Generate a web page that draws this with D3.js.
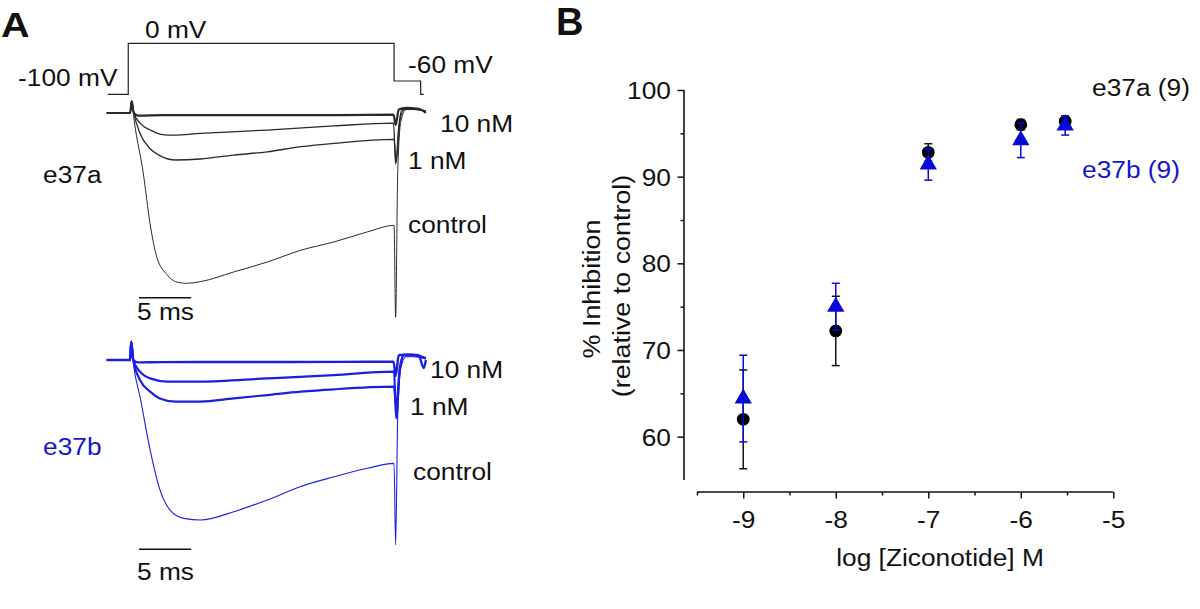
<!DOCTYPE html>
<html>
<head>
<meta charset="utf-8">
<script src="https://cdn.jsdelivr.net/npm/d3@7"></script>
<style>
  html, body { margin: 0; padding: 0; background: #fff; }
  svg { display: block; font-family: "Liberation Sans", Arial, Helvetica, sans-serif; }
</style>
</head>
<body>
<svg id="chart" width="1200" height="609"></svg>
<script>
// ---------------- DATA ----------------
// Panel A: voltage protocol (time in ms relative to step onset, mV)
const protocolTimes  = [-2.3, -0.33, 25.15, 27.7, 28.0];
const protocolLevels = [-100, 0, -60, -100, -100];
const protocolLabels = ["-100 mV", "0 mV", "-60 mV"];

// Panel A: current traces, [time ms, current normalised to control peak]
const e37aTraceFlat = [[-2.4,0],[-0.15,0],[0,0.07],[0.2,0],[0.6,-0.015],[3,-0.013],[10,-0.012],[20,-0.012],[25.1,-0.01],[25.3,-0.07],[25.6,0.02],[26.3,0.03],[27.5,0.025],[28.2,0.0]];
const e37aTrace10nM = [[-2.4,0],[-0.15,0],[0,0.07],[0.2,0],[0.8,-0.06],[1.8,-0.1],[2.8,-0.125],[4,-0.13],[6.6,-0.12],[13,-0.1],[19.4,-0.076],[25.1,-0.06],[25.3,-0.3],[25.6,-0.08],[25.9,0.02],[27,0.025],[28.2,0.01]];
const e37aTrace1nM  = [[-2.4,0],[-0.15,0],[0,0.07],[0.2,0],[0.8,-0.12],[1.76,-0.21],[2.7,-0.25],[4.2,-0.276],[6.6,-0.27],[9.8,-0.247],[13,-0.228],[16.2,-0.198],[19.4,-0.178],[25.15,-0.155],[25.35,-0.29],[25.7,-0.05],[26.1,0.02],[27,0.025],[28.2,0.01]];
const e37aTraceCtrl = [[-2.4,0],[-0.15,0],[0,0.07],[0.25,-0.05],[1.1,-0.35],[1.76,-0.65],[2.4,-0.845],[3.4,-0.95],[4.2,-0.99],[5.2,-1.0],[6.6,-0.99],[9.8,-0.933],[13,-0.875],[16.2,-0.806],[19.4,-0.757],[22.6,-0.698],[25.15,-0.66],[25.3,-1.2],[25.5,-0.35],[25.8,-0.05],[26.3,0.02],[27,0.02],[28.2,0.01]];

const e37bTraceFlat = [[-2.4,0],[-0.15,0],[-0.05,0.115],[0.15,0],[0.6,-0.015],[3,-0.013],[10,-0.0125],[20,-0.012],[25.1,-0.01],[25.3,-0.1],[25.6,0.03],[26.5,0.035],[27.5,0.03],[28.0,-0.05],[28.2,0.0]];
const e37bTrace10nM = [[-2.4,0],[-0.15,0],[-0.05,0.115],[0.15,0],[0.8,-0.073],[1.76,-0.115],[3.4,-0.135],[6.6,-0.135],[13,-0.115],[19.4,-0.094],[25.15,-0.073],[25.35,-0.365],[25.7,-0.06],[26.1,0.03],[27,0.03],[28.2,0.01]];
const e37bTrace1nM  = [[-2.4,0],[-0.15,0],[-0.05,0.115],[0.15,0],[0.8,-0.125],[1.76,-0.198],[2.7,-0.24],[4.2,-0.26],[6.6,-0.26],[9.8,-0.24],[13,-0.219],[16.2,-0.198],[19.4,-0.183],[25.15,-0.167],[25.35,-0.3],[25.7,-0.05],[26.1,0.03],[27,0.03],[28.2,0.01]];
const e37bTraceCtrl = [[-2.4,0],[-0.15,0],[-0.05,0.115],[0.2,-0.04],[0.8,-0.23],[1.76,-0.56],[2.7,-0.81],[3.7,-0.94],[5,-0.99],[6.6,-1.0],[9.8,-0.948],[13,-0.875],[16.2,-0.79],[19.4,-0.73],[22.6,-0.677],[25.15,-0.646],[25.3,-1.156],[25.5,-0.35],[25.8,-0.05],[26.3,0.02],[27,0.02],[28.2,0.01]];

const traceLabels = ["10 nM", "1 nM", "control"];
const scaleBarMs = 5;

// Panel B: dose–response
const logConc   = [-9, -8, -7, -6, -5.52];
const e37aMean  = [62.0, 72.2, 92.8, 96.0, 96.4];
const e37aErr   = [5.7, 4.0, 1.0, 0.6, 0.4];
const e37bMean  = [64.4, 75.0, 91.4, 94.2, 95.9];
const e37bErr   = [5.0, 2.7, 1.8, 2.0, 1.1];
const xTicksMajor = [-9, -8, -7, -6, -5];
const xTicksMinor = [-9.5, -8.5, -7.5, -6.5, -5.5];
const yTicksMajor = [60, 70, 80, 90, 100];
const yTicksMinor = [65, 75, 85, 95];
const seriesNames = ["e37a (9)", "e37b (9)"];

// ---------------- STYLE ----------------
const SX = 1.12;           // horizontal glyph stretch seen in reference
const FS = 23.5;
const BLACK = "#111";
const BLUE_TXT = "#1616c8";
const BLUE_MARK = "#0a0ad8";
const BLUE_TRACE = "#1e1ee0";

const svg = d3.select("#chart");

function stext(g, x, y, str, o = {}) {
  return g.append("text")
    .attr("transform", `translate(${x},${y}) scale(${o.sx ?? SX},1)`)
    .attr("font-size", o.fs ?? FS)
    .attr("font-weight", o.fw ?? "normal")
    .attr("text-anchor", o.anchor ?? "start")
    .attr("fill", o.fill ?? BLACK)
    .text(str);
}

// ---------------- PANEL A ----------------
const gA = svg.append("g");
stext(gA, 1, 37, "A", {fs: 36, fw: "bold", sx: 1.1});

const xA = d3.scaleLinear().domain([0, 25]).range([131.7, 392.5]);
const yV = d3.scaleLinear().domain([-100, -60, 0]).range([94.3, 81, 43.3]);
const yTop = d3.scaleLinear().domain([-1, 0]).range([283.3, 113]);
const yBot = d3.scaleLinear().domain([-1, 0]).range([520, 360]);

// protocol
const protoPts = protocolTimes.map((t, i) => [t, protocolLevels[i]]);
gA.append("path")
  .attr("d", d3.line().x(d => xA(d[0])).y(d => yV(d[1])).curve(d3.curveStepAfter)(protoPts))
  .attr("fill", "none").attr("stroke", "#222").attr("stroke-width", 1.2);
stext(gA, 18, 86, protocolLabels[0]);
stext(gA, 145, 38, protocolLabels[1]);
stext(gA, 408, 73, protocolLabels[2]);

function drawTraces(y, traces, color, widths) {
  const line = d3.line().x(d => xA(d[0])).y(d => y(d[1])).curve(d3.curveMonotoneX);
  traces.forEach((tr, i) => {
    gA.append("path").attr("d", line(tr))
      .attr("fill", "none").attr("stroke", color)
      .attr("stroke-width", widths[i]).attr("stroke-linejoin", "round");
  });
}
drawTraces(yTop, [e37aTraceCtrl, e37aTrace1nM, e37aTrace10nM, e37aTraceFlat], "#2a2a2a", [1.0, 1.3, 1.3, 2.2]);
drawTraces(yBot, [e37bTraceCtrl, e37bTrace1nM, e37bTrace10nM, e37bTraceFlat], BLUE_TRACE, [1.1, 2.2, 2.2, 2.4]);

// labels panel A
stext(gA, 43, 183, "e37a");
stext(gA, 43, 455, "e37b", {fill: BLUE_TXT});
stext(gA, 440, 132, traceLabels[0]);
stext(gA, 408, 169, traceLabels[1]);
stext(gA, 408, 233, traceLabels[2]);
stext(gA, 430, 378, traceLabels[0]);
stext(gA, 410, 415, traceLabels[1]);
stext(gA, 413, 480, traceLabels[2]);

// scale bars
[[297.7, 320], [549.3, 580]].forEach(([yb, yt]) => {
  gA.append("line")
    .attr("x1", xA(0.7)).attr("x2", xA(0.7 + scaleBarMs))
    .attr("y1", yb).attr("y2", yb)
    .attr("stroke", "#111").attr("stroke-width", 1.6);
  stext(gA, 137, yt, scaleBarMs + " ms");
});

// ---------------- PANEL B ----------------
const gB = svg.append("g");
stext(gB, 556, 35, "B", {fs: 38, fw: "bold", sx: 1.0});

const xB = d3.scaleLinear().domain([-9.5, -5]).range([697, 1113.3]);
const yB = d3.scaleLinear().domain([55, 100]).range([480, 90]);

// x axis
const xAxisG = gB.append("g").attr("transform", "translate(0,492)");
xAxisG.append("g").call(d3.axisBottom(xB).tickValues(xTicksMinor).tickSize(3.5).tickFormat(""));
const xMaj = xAxisG.append("g").call(d3.axisBottom(xB).tickValues(xTicksMajor).tickSize(6.5).tickSizeOuter(0).tickFormat(d3.format("d")));
xAxisG.selectAll(".domain").remove();
xAxisG.append("line").attr("x1", xB(-9.5)).attr("x2", xB(-5)).attr("stroke", BLACK).attr("stroke-width", 1.6);
xAxisG.selectAll(".tick line").attr("stroke", BLACK).attr("stroke-width", 1.5);
xMaj.selectAll(".tick text")
  .attr("y", null).attr("dy", null)
  .attr("transform", `translate(0,36) scale(${SX},1)`)
  .attr("font-size", FS).attr("fill", BLACK)
  .text(d => d3.format("d")(d).replace("−", "-"));

// y axis
const yAxisG = gB.append("g").attr("transform", "translate(684,0)");
yAxisG.append("g").call(d3.axisLeft(yB).tickValues(yTicksMinor).tickSize(3.5).tickFormat(""));
const yMaj = yAxisG.append("g").call(d3.axisLeft(yB).tickValues(yTicksMajor).tickSize(6.5).tickSizeOuter(0));
yAxisG.selectAll(".domain").remove();
yAxisG.append("line").attr("y1", yB(55)).attr("y2", yB(100)).attr("stroke", BLACK).attr("stroke-width", 1.6);
yAxisG.selectAll(".tick line").attr("stroke", BLACK).attr("stroke-width", 1.5);
yMaj.selectAll(".tick text")
  .attr("x", null).attr("dy", null)
  .attr("transform", `translate(-13,8.4) scale(${SX},1)`)
  .attr("font-size", FS).attr("fill", BLACK);

// axis titles
stext(gB, 940, 566, "log [Ziconotide] M", {anchor: "middle"});
gB.append("text").attr("transform", `translate(600,289) rotate(-90) scale(1.12,1)`)
  .attr("font-size", 24).attr("text-anchor", "middle").attr("fill", BLACK).text("% Inhibition");
gB.append("text").attr("transform", `translate(630,286) rotate(-90) scale(1.12,1)`)
  .attr("font-size", 24).attr("text-anchor", "middle").attr("fill", BLACK).text("(relative to control)");

// error bars + markers
function errBars(mean, err, color) {
  const g = gB.append("g").attr("stroke", color).attr("stroke-width", 1.5);
  logConc.forEach((x, i) => {
    const cx = xB(x), y1 = yB(mean[i] - err[i]), y2 = yB(mean[i] + err[i]);
    g.append("line").attr("x1", cx).attr("x2", cx).attr("y1", y1).attr("y2", y2);
    g.append("line").attr("x1", cx - 4).attr("x2", cx + 4).attr("y1", y1).attr("y2", y1);
    g.append("line").attr("x1", cx - 4).attr("x2", cx + 4).attr("y1", y2).attr("y2", y2);
  });
}
errBars(e37aMean, e37aErr, BLACK);
gB.append("g").selectAll("circle").data(logConc).join("circle")
  .attr("cx", d => xB(d)).attr("cy", (d, i) => yB(e37aMean[i])).attr("r", 6.4).attr("fill", "#000");
errBars(e37bMean, e37bErr, BLUE_MARK);
const tri = d3.symbol().type(d3.symbolTriangle).size(130);
gB.append("g").selectAll("path").data(logConc).join("path")
  .attr("d", tri)
  .attr("transform", (d, i) => `translate(${xB(d)},${yB(e37bMean[i])})`)
  .attr("fill", BLUE_MARK);

// legend texts
stext(gB, 1092, 96, seriesNames[0]);
stext(gB, 1082, 178, seriesNames[1], {fill: BLUE_TXT});
</script>
</body>
</html>
